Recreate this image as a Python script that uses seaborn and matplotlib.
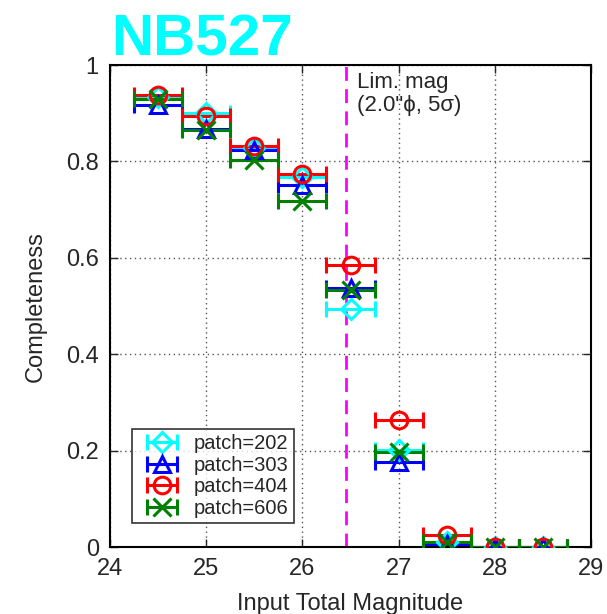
import numpy as np
import pandas as pd
import matplotlib
matplotlib.use("Agg")
import matplotlib.pyplot as plt
from matplotlib.container import ErrorbarContainer
from matplotlib.legend_handler import HandlerErrorbar
import seaborn as sns

# ---- data ----
mag = [24.5, 25.0, 25.5, 26.0, 26.5, 27.0, 27.5, 28.0, 28.5]
bin_half = 0.25
patch202 = [0.934, 0.901, 0.828, 0.768, 0.494, 0.201, 0.010, 0.0, 0.0]
patch303 = [0.918, 0.867, 0.823, 0.752, 0.538, 0.177, 0.006, 0.0, 0.0]
patch404 = [0.938, 0.894, 0.832, 0.775, 0.585, 0.263, 0.025, 0.0, 0.0]
patch606 = [0.929, 0.865, 0.804, 0.718, 0.533, 0.198, 0.011, 0.0, 0.0]
labels = ["patch=202", "patch=303", "patch=404", "patch=606"]
colors = ["#00FFFF", "#0000FF", "#FF0000", "#008000"]
markers = ["D", "^", "o", "x"]
lim_mag = 26.45

sns.set_theme(style="ticks")
plt.rcParams["font.family"] = ["Liberation Sans", "DejaVu Sans"]

fig = plt.figure(figsize=(6.07, 6.14), dpi=100)
ax = fig.add_axes([0.181, 0.109, 0.793, 0.785])

series = [patch202, patch303, patch404, patch606]
msizes = [10, 11, 12, 13]
for vals, lab, col, mk, ms in zip(series, labels, colors, markers, msizes):
    ax.errorbar(mag, vals, xerr=bin_half, fmt=mk, color=col, mfc="none",
                mec=col, mew=2.2, ms=ms, elinewidth=2.2, capsize=6,
                capthick=2.2, label=lab, zorder=3)

ax.axvline(lim_mag, color="#FF00FF", ls=(0, (5, 3)), lw=2, zorder=2)
ax.text(26.57, 0.985, "Lim. mag\n(2.0\"\u03d5, 5\u03c3)", fontsize=16,
        va="top", ha="left", linespacing=1.1)

ax.set_xlim(24, 29)
ax.set_ylim(0, 1)
ax.set_xticks([24, 25, 26, 27, 28, 29])
ax.set_yticks([0, 0.2, 0.4, 0.6, 0.8, 1.0])
ax.set_yticklabels(["0", "0.2", "0.4", "0.6", "0.8", "1"])
ax.grid(True, color="#555555", ls=(0, (1, 2.5)), lw=1)
ax.tick_params(direction="in", top=True, right=True, labelsize=17,
               length=6, width=1, pad=8)
for s in ax.spines.values():
    s.set_linewidth(1.5)
    s.set_color("black")

ax.set_xlabel("Input Total Magnitude", fontsize=17, labelpad=9)
ax.set_ylabel("Completeness", fontsize=17, labelpad=14)

leg = ax.legend(loc="lower left", bbox_to_anchor=(0.047, 0.05), fontsize=14.5,
                frameon=True, fancybox=False, edgecolor="black",
                handlelength=2.4, borderpad=0.25, labelspacing=0.13,
                handletextpad=0.4, borderaxespad=0, numpoints=1,
                handler_map={ErrorbarContainer: HandlerErrorbar(xerr_size=0.75,
                                                                numpoints=1)})
leg.get_frame().set_linewidth(1.2)

fig.text(0.183, 0.910, "NB527", color="#00FFFF", fontsize=42,
         fontweight="bold", va="baseline", ha="left")

fig.savefig("out.png", dpi=100)
